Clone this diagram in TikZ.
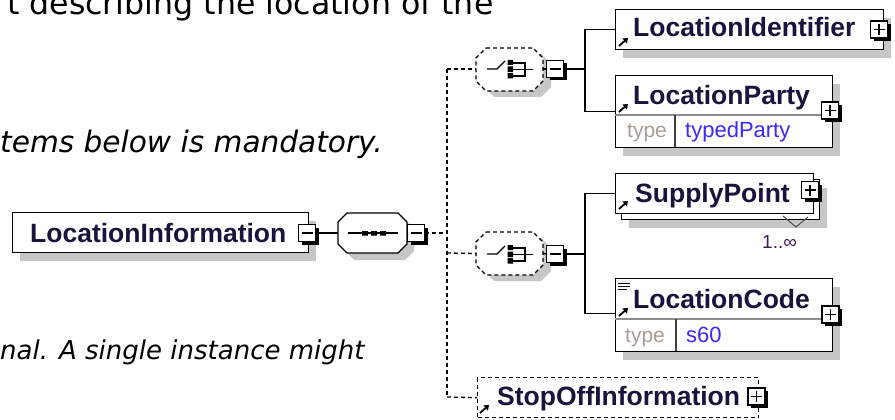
\documentclass[tikz,border=0pt]{standalone}
\usepackage{fontspec}
\setmainfont{Liberation Sans}
\newfontfamily\verd{DejaVu Sans}
\usetikzlibrary{shadows,arrows.meta}
\definecolor{shd}{RGB}{198,198,198}
\definecolor{lbl}{RGB}{28,18,62}
\definecolor{tgray}{RGB}{168,158,150}
\definecolor{tblue}{RGB}{60,40,250}
\definecolor{mult}{RGB}{60,30,90}
\newcommand\octo[5]{(#1+#5,#2) -- (#3-#5,#2) -- (#3,#2+#5) -- (#3,#4-#5) -- (#3-#5,#4) -- (#1+#5,#4) -- (#1,#4-#5) -- (#1,#2+#5) -- cycle}
\begin{document}
\begin{tikzpicture}[x=1pt,y=-1pt,
  conn/.style={line width=1.4pt},
  dconn/.style={line width=1.3pt, dash pattern=on 4pt off 3pt},
  elem/.style={draw, line width=1.4pt, fill=white, inner sep=0pt, anchor=north west, drop shadow={shadow xshift=7pt, shadow yshift=-8pt, fill=shd, opacity=1}},
  elemns/.style={draw, line width=1.4pt, fill=white, inner sep=0pt, anchor=north west},
  lab/.style={font=\bfseries\fontsize{26.5}{26.5}\selectfont, text=lbl, inner sep=0pt, anchor=base west},
  pmbox/.style={draw, line width=1.5pt, fill=white, inner sep=0pt, minimum size=17pt, drop shadow={shadow xshift=3pt, shadow yshift=-3pt, fill=black, opacity=1}},
  minusbox/.style={pmbox, path picture={\draw[line width=1.3pt] ([xshift=3pt]path picture bounding box.west) -- ([xshift=-3pt]path picture bounding box.east);}},
  plusbox/.style={pmbox, path picture={\draw[line width=1.3pt] ([xshift=3pt]path picture bounding box.west) -- ([xshift=-3pt]path picture bounding box.east) ([yshift=3pt]path picture bounding box.south) -- ([yshift=-3pt]path picture bounding box.north);}},
  holder/.style={inner sep=0pt, outer sep=0pt},
  refarrow/.style={line width=1.8pt, -{Triangle[length=4.5pt,width=6.5pt]}},
  ttype/.style={font=\fontsize{21}{21}\selectfont, text=tgray, inner sep=0pt, anchor=base west},
  tval/.style={font=\fontsize{22}{22}\selectfont, text=tblue, inner sep=0pt, anchor=base west},
  para/.style={inner sep=0pt, anchor=base west, text=black}
]
\useasboundingbox (0,0) rectangle (895,420);

% ---- paragraph text ----
\node[para, font=\verd\fontsize{31.6}{31.6}\selectfont] (t1) at (7,15) {t describing the location of the};
\node[para, font=\verd\itshape\fontsize{29.6}{29.6}\selectfont] (t2) at (0,153) {tems below is mandatory.};
\node[para, font=\verd\itshape\fontsize{26}{26}\selectfont] (t3) at (0,359) {nal. A single instance might};

% ---- bus coordinates ----
\coordinate (bustop) at (447,69);
\coordinate (busseq) at (447,233);
\coordinate (busch2) at (447,253);
\coordinate (busbot) at (447,397);
\coordinate (v1) at (585,69);
\coordinate (v2) at (585,254);

% ---- LocationInformation ----
\node[elem, minimum width=296pt, minimum height=40pt] (li) at (12,212) {};
\node[lab] (lit) at (30,242) {LocationInformation};
\node[minusbox] (limin) at (307,233) {};

% ---- sequence ----
\fill[shd, shift={(7,7)}] \octo{338}{213}{407}{253}{9};
\draw[line width=1.4pt, fill=white] \octo{338}{213}{407}{253}{9};
\node[holder, minimum width=69pt, minimum height=40pt] (seq) at (372.5,233) {};
\draw[line width=1.4pt] (348,233) -- (398,233);
\fill (362,231) rectangle (368,235.5) (371,231) rectangle (377,235.5) (380,231) rectangle (386,235.5);
\node[minusbox] (seqmin) at (416,233) {};

% ---- choice 1 ----
\fill[shd, shift={(8,6)}] \octo{476}{48}{543}{91}{10};
\draw[dconn, fill=white] \octo{476}{48}{543}{91}{10};
\node[holder, minimum width=67pt, minimum height=43pt] (ch1) at (509.5,69) {};
\draw[line width=1.4pt] (487,69) -- (497,69) -- (505,61);
\fill (507.5,60) rectangle (513,65) (507.5,66.5) rectangle (513,72) (507.5,73) rectangle (513,78.5);
\draw[line width=1.3pt] (513,63) -- (525,63) -- (525,76) -- (513,76) (513,69.5) -- (533,69.5);
\node[minusbox] (ch1min) at (555,69) {};

% ---- choice 2 ----
\fill[shd, shift={(8,6)}] \octo{476}{232}{543}{275}{10};
\draw[dconn, fill=white] \octo{476}{232}{543}{275}{10};
\node[holder, minimum width=67pt, minimum height=43pt] (ch2) at (509.5,253.5) {};
\draw[line width=1.4pt] (487,254) -- (497,254) -- (505,246);
\fill (507.5,245) rectangle (513,250) (507.5,251.5) rectangle (513,257) (507.5,258) rectangle (513,263.5);
\draw[line width=1.3pt] (513,248) -- (525,248) -- (525,261) -- (513,261) (513,254.5) -- (533,254.5);
\node[minusbox] (ch2min) at (555,254) {};

% ---- LocationIdentifier ----
\node[elem, minimum width=268pt, minimum height=40pt] (lid) at (615,9) {};
\node[lab] (lidt) at (633,37) {LocationIdentifier};
\draw[refarrow] (619,46) -- (628,38);
\node[plusbox] (lidplus) at (879,29.5) {};

% ---- LocationParty ----
\node[elem, minimum width=217pt, minimum height=72pt] (lp) at (615,75) {};
\draw[line width=1.2pt, black!45] (615,115) -- (832,115);
\draw[line width=1.2pt, black!75] (675,115) -- (675,147);
\node[lab] (lpt) at (633,105) {LocationParty};
\draw[refarrow] (619,112) -- (628,104);
\node[ttype] (lptype) at (627,138) {type};
\node[tval] (lpval) at (685,138) {typedParty};
\node[plusbox] (lpplus) at (830,110.5) {};

% ---- SupplyPoint ----
\node[elem, minimum width=198pt, minimum height=40pt] (spb) at (621,179) {};
\draw[line width=1pt, black!70] (783,216) -- (796,227) -- (808,217);
\node[elemns, minimum width=198pt, minimum height=40pt] (sp) at (615,173) {};
\node[lab] (spt) at (635,202) {SupplyPoint};
\draw[refarrow] (619,209) -- (628,201);
\node[plusbox] (spplus) at (810,190) {};
\node[inner sep=0pt, anchor=base west, text=mult, font=\fontsize{19}{19}\selectfont] (spm) at (762,248) {1..∞};

% ---- LocationCode ----
\node[elem, minimum width=217pt, minimum height=73pt] (lc) at (615,278) {};
\draw[line width=1.2pt, black!45] (615,319) -- (832,319);
\draw[line width=1.2pt, black!75] (676,319) -- (676,351);
\draw[line width=1pt] (618,283) -- (630,283) (618,286) -- (630,286) (618,289) -- (627,289);
\node[lab] (lct) at (633,308) {LocationCode};
\draw[refarrow] (619,316) -- (628,308);
\node[ttype] (lctype) at (625,342) {type};
\node[tval] (lcval) at (686,342) {s60};
\node[plusbox] (lcplus) at (830.5,314.5) {};

% ---- StopOffInformation ----
\node[draw, dconn, fill=white, inner sep=0pt, anchor=north west, minimum width=281pt, minimum height=40pt] (so) at (477,377) {};
\node[lab] (sot) at (497,405) {StopOffInformation};
\draw[refarrow] (480,413) -- (489,405);
\node[plusbox] (soplus) at (756.5,396.5) {};

% ---- connectors ----
\draw[conn] (limin.east) -- (seq.west);
\draw[conn] (seq.east) -- (seqmin.west);
\draw[dconn] (seqmin.east) -- (busseq);
\draw[dconn] (bustop) -- (busbot);
\draw[dconn] (bustop) -- (ch1.west);
\draw[dconn] (busch2) -- (ch2.west);
\draw[dconn] (busbot) -- (so.west);
\draw[conn] (ch1.east) -- (ch1min.west);
\draw[conn] (ch2.east) -- (ch2min.west);
\draw[conn] (ch1min.east) -- (v1);
\draw[conn] (ch2min.east) -- (v2);
\draw[conn] (lid.west) -| (v1);
\draw[conn] (lp.west) -| (v1);
\draw[conn] (sp.west) -| (v2);
\draw[conn] ([yshift=1.5pt]lc.west) -| (v2);
\end{tikzpicture}
\end{document}
